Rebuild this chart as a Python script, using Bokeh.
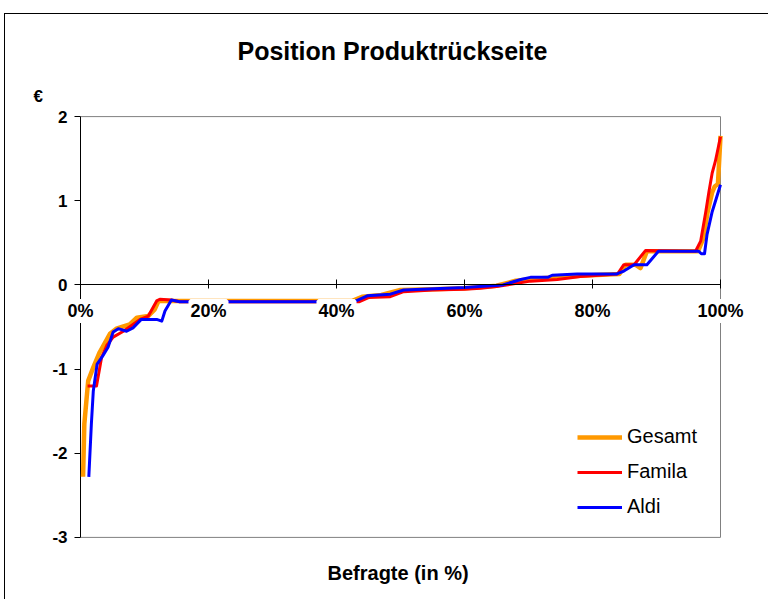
from bokeh.plotting import figure
from bokeh.models import Range1d, FixedTicker, Legend, LegendItem, Title
from bokeh.embed import file_html
from bokeh.resources import INLINE

FONT = "Liberation Sans"

# ---- data (x = Befragte in %, y = €) ----
gesamt_x = [0.4, 0.6, 1.2, 2.0, 3.0, 4.6, 5.6, 7.7, 8.8, 10.6, 11.6, 12.2, 42.5, 44.0, 47.0,
            50.0, 55.0, 60.0, 65.0, 68.0, 72.0, 78.0, 84.2, 85.2, 86.7, 87.5, 88.5, 96.5,
            97.3, 98.0, 98.7, 99.1, 99.6, 100.0]
gesamt_y = [-2.28, -1.65, -1.14, -0.98, -0.80, -0.58, -0.52, -0.47, -0.39, -0.37, -0.29, -0.19,
            -0.19, -0.14, -0.12, -0.06, -0.05, -0.04, -0.01, 0.05, 0.08, 0.11, 0.13, 0.24,
            0.24, 0.20, 0.40, 0.40, 0.55, 0.87, 1.10, 1.17, 1.20, 1.77]

famila_x = [1.1, 2.5, 3.3, 4.1, 5.1, 6.7, 8.2, 9.3, 10.6, 11.9, 12.4, 14.2, 15.5, 43.5, 45.0,
            48.4, 50.5, 55.0, 60.0, 62.5, 65.0, 70.3, 74.5, 78.1, 83.9, 84.9, 86.5, 88.3,
            96.1, 96.9, 97.7, 98.2, 98.7, 99.2, 100.0]
famila_y = [-1.20, -1.20, -0.86, -0.72, -0.62, -0.55, -0.47, -0.41, -0.37, -0.19, -0.17, -0.18,
            -0.20, -0.20, -0.15, -0.14, -0.08, -0.06, -0.05, -0.04, -0.02, 0.045, 0.065, 0.10,
            0.13, 0.24, 0.24, 0.41, 0.40, 0.52, 0.87, 1.11, 1.33, 1.47, 1.76]

aldi_x = [1.3, 1.7, 2.0, 2.6, 3.5, 4.3, 5.1, 5.9, 7.2, 8.2, 9.5, 11.9, 12.7, 13.2, 14.2, 15.5,
          42.7, 44.8, 48.4, 50.5, 60.0, 66.0, 68.8, 70.3, 73.0, 73.7, 77.6, 83.8, 84.9, 86.5,
          88.5, 90.3, 96.6, 97.0, 97.5, 97.9, 98.7, 100.0]
aldi_y = [-2.28, -1.65, -1.26, -0.94, -0.84, -0.74, -0.56, -0.52, -0.55, -0.51, -0.41, -0.41,
          -0.43, -0.31, -0.18, -0.20, -0.20, -0.13, -0.11, -0.06, -0.03, 0.00, 0.065, 0.09,
          0.09, 0.115, 0.13, 0.13, 0.165, 0.24, 0.24, 0.40, 0.40, 0.37, 0.37, 0.60, 0.87, 1.19]

x_ticks = [0, 20, 40, 60, 80, 100]
x_tick_labels = ["0%", "20%", "40%", "60%", "80%", "100%"]
y_ticks = [-3, -2, -1, 0, 1, 2]
y_tick_labels = ["-3", "-2", "-1", "0", "1", "2"]

title_text = "Position Produktrückseite"
y_title = "€"
x_title = "Befragte (in %)"

x0, x1 = x_ticks[0], x_ticks[-1]
y0, y1 = y_ticks[0], y_ticks[-1]

# the frame is a little larger than the plot area so that the axes drawn at 0
# (and their labels) are not clipped
p = figure(width=768, height=599, output_backend="svg", toolbar_location=None,
           x_range=Range1d(x0 - 12.5, x1 + 7.5), y_range=Range1d(y0 - 0.12, y1 + 0.12),
           min_border_left=0, min_border_right=0, min_border_top=106, min_border_bottom=52)
p.title.visible = False
p.xgrid.visible = False
p.ygrid.visible = False
p.outline_line_color = None
p.background_fill_color = None
p.border_fill_color = None
p.styles = {
    "background-color": "white",
    "background-image": "linear-gradient(#000,#000), linear-gradient(#000,#000)",
    "background-size": "1px 100%, 100% 1px",
    "background-position": "4px 13px, 4px 13px",
    "background-repeat": "no-repeat",
}

# axes
p.xaxis.fixed_location = 0
p.xaxis.bounds = (x0, x1)
p.xaxis.ticker = FixedTicker(ticks=x_ticks)
p.xaxis.major_label_overrides = dict(zip(x_ticks, x_tick_labels))
p.xaxis.axis_line_color = "black"
p.xaxis.major_tick_line_color = "black"
p.xaxis.major_tick_in = 5
p.xaxis.major_tick_out = 4
p.xaxis.minor_tick_line_color = None
p.xaxis.major_label_standoff = 12
p.xaxis.major_label_text_font = FONT
p.xaxis.major_label_text_font_style = "bold"
p.xaxis.major_label_text_font_size = "18px"
p.xaxis.major_label_text_color = "black"

p.yaxis.fixed_location = 0
p.yaxis.bounds = (y0, y1)
p.yaxis.ticker = FixedTicker(ticks=y_ticks)
p.yaxis.major_label_overrides = dict(zip(y_ticks, y_tick_labels))
p.yaxis.axis_line_color = None
p.yaxis.major_tick_line_color = "black"
p.yaxis.major_tick_in = 0
p.yaxis.major_tick_out = 6
p.yaxis.minor_tick_line_color = None
p.yaxis.major_label_standoff = 7
p.yaxis.major_label_text_font = FONT
p.yaxis.major_label_text_font_style = "bold"
p.yaxis.major_label_text_font_size = "17px"
p.yaxis.major_label_text_color = "black"

# plot-area box: grey top/right/bottom, black left axis line
p.line([x0, x1, x1, x0], [y1, y1, y0, y0], line_color="#808080", line_width=1)
p.line([x0, x0], [y0, y1], line_color="black", line_width=1)

r_g = p.line(gesamt_x, gesamt_y, line_color="#FF9900", line_width=4.5, line_join="round")
r_f = p.line(famila_x, famila_y, line_color="#FF0000", line_width=3, line_join="round")
r_a = p.line(aldi_x, aldi_y, line_color="#0000FF", line_width=3, line_join="round")

# white boxes behind the x tick labels (they hide the curves as in the original)
p.text(x=x_ticks, y=[0] * len(x_ticks), text=x_tick_labels, y_offset=26,
       text_align="center", text_baseline="middle", text_font_size="18px",
       text_font_style="bold", text_alpha=0, background_fill_color="white",
       border_line_color="white", border_line_width=4)

legend = Legend(items=[LegendItem(label="Gesamt", renderers=[r_g]),
                       LegendItem(label="Famila", renderers=[r_f]),
                       LegendItem(label="Aldi", renderers=[r_a])],
                location=(577, 29), padding=0, margin=0, spacing=12,
                glyph_width=45, glyph_height=22, label_height=22, label_standoff=5,
                label_text_font=FONT, label_text_font_size="20px", label_text_color="black",
                border_line_color=None, background_fill_alpha=0)
p.add_layout(legend)

p.add_layout(Title(text=y_title, align="left", offset=33, standoff=2,
                   text_font=FONT, text_font_style="bold", text_font_size="17px",
                   text_color="black"), "above")
p.add_layout(Title(text=title_text, align="left", offset=237, standoff=37,
                   text_font=FONT, text_font_style="bold", text_font_size="25px",
                   text_color="black"), "above")
p.add_layout(Title(text=x_title, align="left", offset=327, standoff=25,
                   text_font=FONT, text_font_style="bold", text_font_size="20px",
                   text_color="black"), "below")

open("out.html", "w").write(file_html(p, INLINE))
